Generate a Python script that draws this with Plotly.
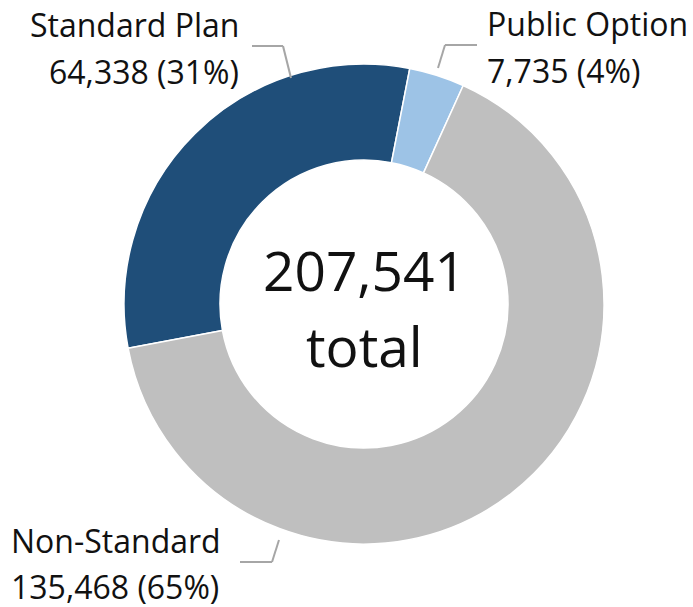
import plotly.graph_objects as go

# ---- data ----
categories = ["Standard Plan", "Public Option", "Non-Standard"]
values = [64338, 7735, 135468]
colors = ["#1F4E79", "#9DC3E6", "#BFBFBF"]
center_caption = "total"

W, H = 693, 607
total = sum(values)
FONT = "Open Sans"
TEXT_COLOR = "#111111"
LINE_COLOR = "#A6A6A6"


def px(x, y):
    return x / W, 1 - y / H


# pie geometry (pixels)
cx, cy, R = 364, 304, 240

fig = go.Figure(
    go.Pie(
        labels=categories,
        values=values,
        hole=0.6,
        sort=False,
        direction="clockwise",
        rotation=-100.6,
        marker=dict(colors=colors, line=dict(color="white", width=1.5)),
        textinfo="none",
        hoverinfo="label+value+percent",
        domain=dict(
            x=[(cx - R) / W, (cx + R) / W],
            y=[1 - (cy + R) / H, 1 - (cy - R) / H],
        ),
    )
)

annotations = []


def add_text(text, x, y, size, xanchor):
    ax, ay = px(x, y)
    annotations.append(
        dict(
            text=text, x=ax, y=ay, xref="paper", yref="paper",
            xanchor=xanchor, yanchor="middle", showarrow=False,
            font=dict(family=FONT, size=size, color=TEXT_COLOR),
        )
    )


value_texts = [f"{v:,} ({round(100 * v / total)}%)" for v in values]

# label layout: (x, y line1, y line2, anchor)
label_layout = [
    (241, 25, 71, "right"),
    (485, 24, 70, "left"),
    (9, 540, 586, "left"),
]
for name, vt, (x, y1, y2, anc) in zip(categories, value_texts, label_layout):
    add_text(name, x, y1, 32, anc)
    add_text(vt, x, y2, 32, anc)

# center total
add_text(f"{total:,}", cx, 270, 55, "center")
add_text(center_caption, cx, 345, 55, "center")

# leader lines (pixel paths)
leaders = [
    [(252, 46), (283, 46), (291, 78)],
    [(477, 45), (445, 45), (438, 68)],
    [(240, 562), (272, 562), (279, 540)],
]
shapes = []
for pts in leaders:
    for (x0, y0), (x1, y1) in zip(pts[:-1], pts[1:]):
        a0, b0 = px(x0, y0)
        a1, b1 = px(x1, y1)
        shapes.append(
            dict(type="line", xref="paper", yref="paper",
                 x0=a0, y0=b0, x1=a1, y1=b1,
                 line=dict(color=LINE_COLOR, width=2))
        )

fig.update_layout(
    width=W, height=H,
    margin=dict(l=0, r=0, t=0, b=0),
    paper_bgcolor="white",
    plot_bgcolor="white",
    showlegend=False,
    annotations=annotations,
    shapes=shapes,
)

fig.write_html(
    "out.html",
    config={"displayModeBar": False},
    post_script="document.body.style.margin='0';document.body.style.overflow='hidden';",
)
